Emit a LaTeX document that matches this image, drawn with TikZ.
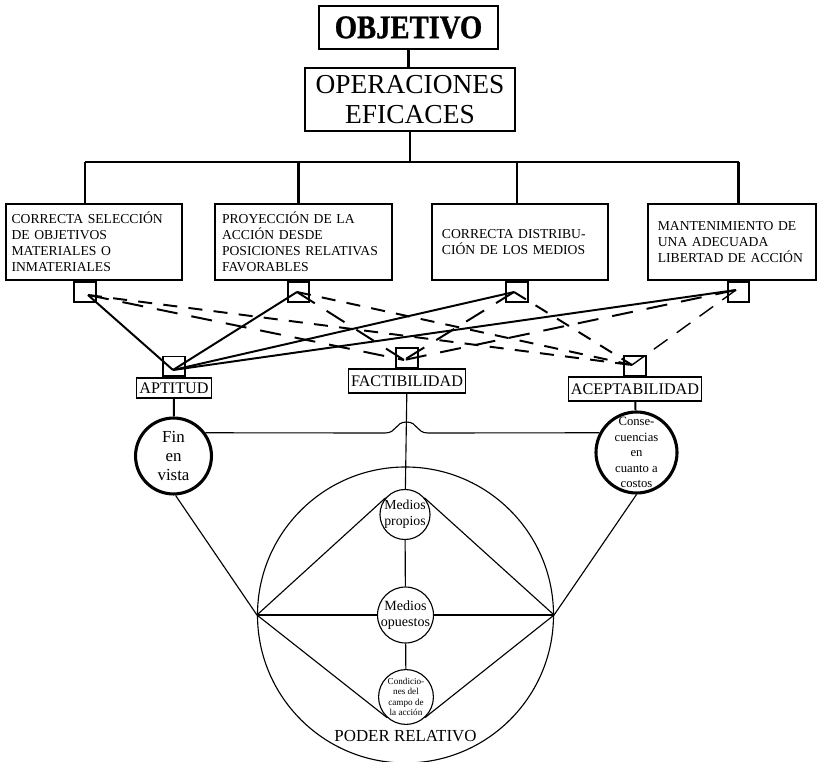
\documentclass[tikz,border=0pt]{standalone}
\usepackage{fontspec}
\setmainfont{Liberation Serif}
\newfontfamily\heavyfont[FakeBold=1]{Liberation Serif}
\tikzset{
  topbox/.style={draw, line width=1.7pt, inner sep=0pt, align=center},
  critbox/.style={draw, line width=1.4pt, minimum height=54pt, inner ysep=0pt, align=left,
    font=\fontsize{9.7}{11.4}\selectfont},
  labbox/.style={draw, line width=0.8pt, inner xsep=2pt, inner ysep=0pt, minimum height=17pt,
    font=\fontsize{11.5}{13}\selectfont},
  sqbox/.style={draw, line width=1.4pt, minimum width=15pt, minimum height=14.2pt, inner sep=0pt},
  goalcirc/.style={circle, draw, line width=2.2pt, inner sep=-3pt, align=center},
  meancirc/.style={circle, draw, line width=0.8pt, inner sep=-3pt, align=center},
  tree/.style={line width=1.7pt},
  aptline/.style={line width=1.4pt},
  facline/.style={line width=1.4pt, dash pattern=on 15pt off 10pt},
  aceline/.style={line width=1.4pt, dash pattern=on 10pt off 8pt},
  thinline/.style={line width=0.8pt}
}
\begin{document}
\begin{tikzpicture}[x=0.025cm, y=-0.025cm]
\useasboundingbox (0,0) rectangle (817,762);
% cabecera
\node[topbox, minimum width=127pt, minimum height=30.5pt, font=\fontsize{21}{24}\heavyfont\bfseries] (obj) at (408.5,27.5) {\scalebox{0.97}[1.12]{OBJETIVO}};
\node[topbox, minimum width=149.4pt, minimum height=44.8pt, font=\fontsize{19.5}{21.3}\selectfont] (ops) at (410,99.5) {OPERACIONES\\EFICACES};
\draw[tree] (obj.south) -- (obj.south |- ops.north);
% barra
\coordinate (t1) at (85,162);
\coordinate (t2) at (298.5,162);
\coordinate (t3) at (517,162);
\coordinate (t4) at (738.5,162);
\draw[tree] (t1) -- (t4);
\draw[tree] (ops.south) -- (ops.south |- t1);
% criterios
\node[critbox, inner xsep=4pt, text width=117.2pt] (crit1) at (94,242) {CORRECTA SELECCIÓN\\DE OBJETIVOS\\MATERIALES O\\INMATERIALES};
\node[critbox, inner xsep=5pt, text width=115.9pt] (crit2) at (303.5,242) {PROYECCIÓN DE LA\\ACCIÓN DESDE\\POSICIONES RELATIVAS\\FAVORABLES};
\node[critbox, inner xsep=7.1pt, text width=111pt] (crit3) at (520,242) {CORRECTA DISTRIBU-\\CIÓN DE LOS MEDIOS};
\node[critbox, inner xsep=7pt, text width=105.5pt] (crit4) at (732,242) {MANTENIMIENTO DE\\UNA ADECUADA\\LIBERTAD DE ACCIÓN};
\foreach \i in {1,...,4} {
  \draw[tree] (t\i) -- (t\i |- crit\i.north);
  \node[sqbox, anchor=north] (s\i) at (crit\i.south -| t\i) {};
}
\coordinate (u1) at (88,295);
\coordinate (u2) at (297,292);
\coordinate (u3) at (514,292);
\coordinate (u4) at (736,290);
% requisitos
\node[labbox, minimum height=14.2pt] (apt) at (174,388) {APTITUD};
\node[labbox] (fact) at (407,381) {FACTIBILIDAD};
\node[labbox] (acep) at (635,389) {ACEPTABILIDAD};
\node[sqbox, anchor=south] (sA) at (apt.north) {};
\node[sqbox, anchor=south] (sF) at (fact.north) {};
\node[sqbox, anchor=south] (sC) at (acep.north) {};
\coordinate (hA) at (173,370);
\coordinate (hF) at (404,360);
\coordinate (hC) at (632,365);
\foreach \i in {1,...,4} {
  \draw[aptline] (u\i) -- (hA);
  \draw[facline] (u\i) -- (hF);
}
\foreach \i in {1,...,3}
  \draw[aceline] (u\i) -- (hC);
\draw[aceline, line width=1pt, dash pattern=on 12pt off 8pt] (u4) -- (hC);
% fin y consecuencias
\node[goalcirc, minimum size=54pt, font=\fontsize{12}{13.5}\selectfont] (fin) at (173.5,456) {Fin\\en\\vista};
\node[goalcirc, minimum size=57.6pt, font=\fontsize{9}{11}\selectfont] (cons) at (636.5,452.5) {Conse-\\cuencias\\en\\cuanto a\\costos};
\draw[aptline] (apt) -- (fin);
\draw[aptline] (acep) -- (cons);
\coordinate (jl) at (385,433);
\coordinate (jr) at (428,433);
\draw[thinline] (fin.36) -- (jl) .. controls (397,433) and (395,422) .. (406.5,422)
  .. controls (418,422) and (416,433) .. (jr) -- (cons.152);
% poder relativo
\node[circle, draw, thinline, minimum size=210.5pt] (poder) at (405.5,615) {};
\node[meancirc, minimum size=35.6pt, font=\fontsize{9.8}{11.5}\selectfont] (mp) at (405,514.5) {Medios\\propios};
\node[meancirc, minimum size=39.8pt, font=\fontsize{10}{11.8}\selectfont] (mo) at (405.5,615) {Medios\\opuestos};
\node[meancirc, minimum size=39pt, font=\fontsize{6.5}{7.5}\selectfont] (cond) at (406,697) {Condicio-\\nes del\\campo de\\la acción};
\node[font=\fontsize{12}{14}\selectfont] (podlbl) at (405.5,736.5) {PODER RELATIVO};
\draw[thinline] (fact) -- (mp);
\draw[thinline] (mp) -- (mo);
\draw[thinline] (mo) -- (cond);
\draw[thinline] (poder.west) -- (mo) -- (poder.east);
\draw[thinline] (poder.west) -- (mp.139);
\draw[thinline] (poder.east) -- (mp.41);
\draw[thinline] (poder.west) -- (cond.228);
\draw[thinline] (poder.east) -- (cond.312);
\draw[thinline] (fin.-87) -- (poder.west);
\draw[thinline] (cons.-90) -- (poder.east);
\end{tikzpicture}
\end{document}
